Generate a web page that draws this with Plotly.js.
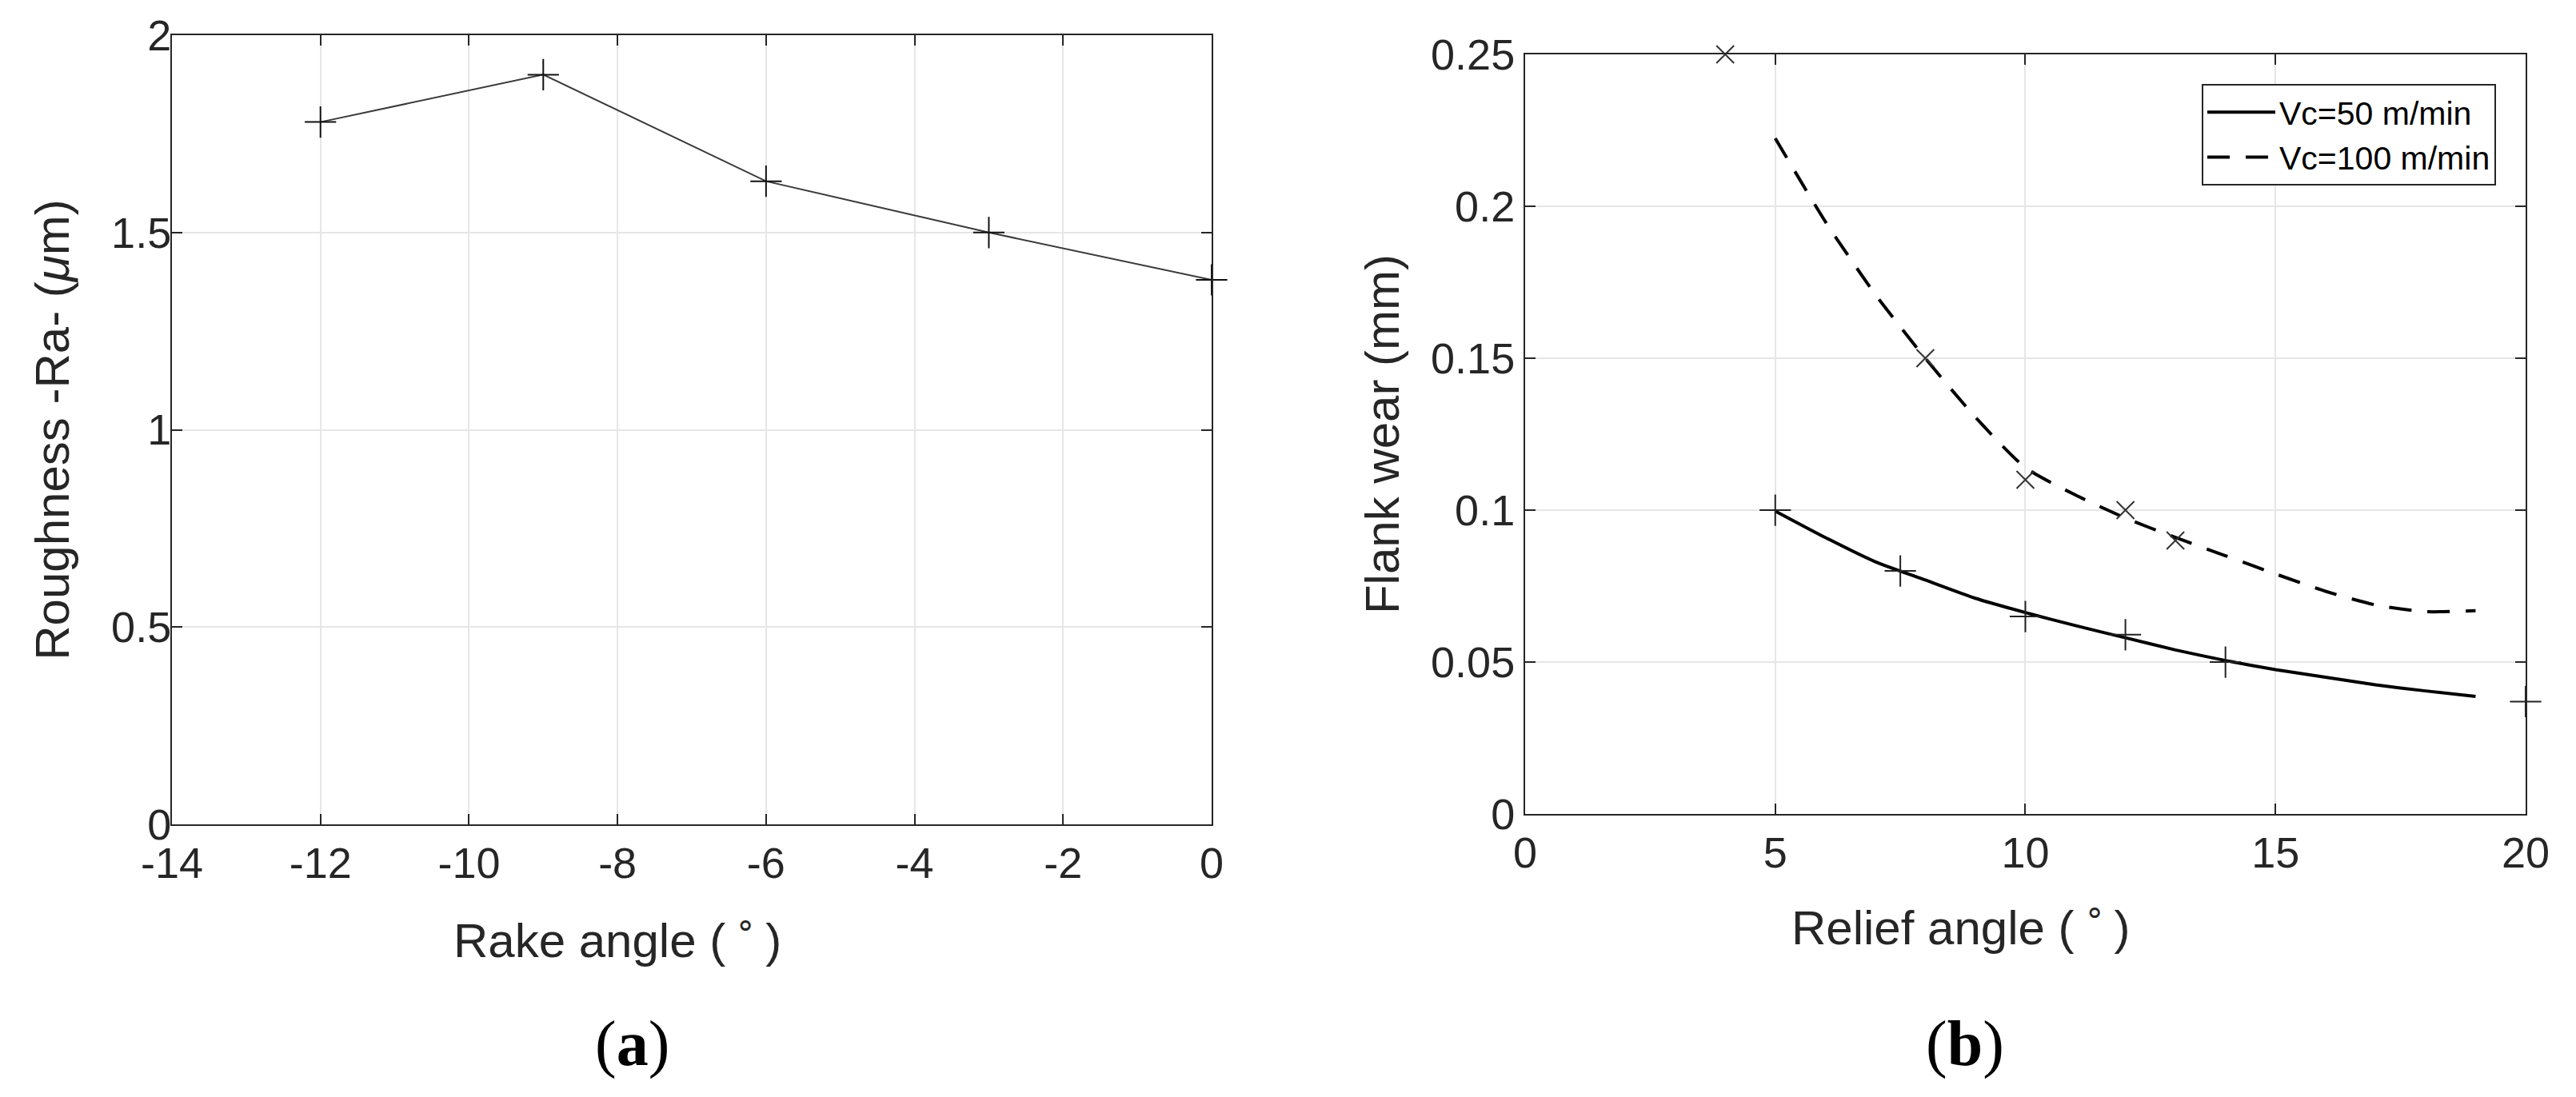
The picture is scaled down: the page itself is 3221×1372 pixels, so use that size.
<!DOCTYPE html>
<html><head><meta charset="utf-8">
<script src="https://cdn.plot.ly/plotly-3.0.1.min.js"></script>
<style>html,body{margin:0;padding:0;background:#fff;} #chart{width:3221px;height:1372px;}</style>
</head><body><div id="chart"></div>
<script>
// ---- Panel (a): roughness vs rake angle ----
const rakeAngle = [-12, -9, -6, -3, 0];
const roughnessRa = [1.78, 1.90, 1.63, 1.50, 1.38];

// ---- Panel (b): measured flank wear ----
const reliefAngle50 = [5, 7.5, 10, 12, 14, 20];
const flankWear50 = [0.100, 0.080, 0.065, 0.059, 0.050, 0.037];
const reliefAngle100 = [4, 8, 10, 12, 13];
const flankWear100 = [0.250, 0.150, 0.110, 0.100, 0.090];

// ---- Panel (b): fitted curves ----
const fitAngle = [5, 6, 7, 8, 9, 10, 11, 12, 13, 14, 15, 16, 17, 18, 19];
const fitWear50 = [0.0997, 0.091, 0.083, 0.077, 0.071, 0.0663, 0.062, 0.058, 0.054, 0.0505, 0.0475, 0.045, 0.0425, 0.0405, 0.0387];
const fitWear100 = [0.2224, 0.195, 0.171, 0.150, 0.1306, 0.114, 0.105, 0.0974, 0.091, 0.085, 0.079, 0.0733, 0.0688, 0.0666, 0.0669];

const legendLabels = ['Vc=50 m/min', 'Vc=100 m/min'];
const xTicksA = [-14, -12, -10, -8, -6, -4, -2, 0];
const yTicksA = [0, 0.5, 1, 1.5, 2];
const xTicksB = [0, 5, 10, 15, 20];
const yTicksB = [0, 0.05, 0.1, 0.15, 0.2, 0.25];
const xTitles = ['Rake angle (\u2009<sup>\u2218</sup>\u2009)', 'Relief angle (\u2009<sup>\u2218</sup>\u2009)'];
const yTitles = ['Roughness -Ra- (<i>\u03bc</i>m)', 'Flank wear (mm)'];
const captions = ['(<b>a</b>)', '(<b>b</b>)'];

const FONT = 'Liberation Sans, Arial, Helvetica, sans-serif';
const SERIF = 'Liberation Serif, Times New Roman, serif';
const INK = '#262626';

function axis(extra) {
  return Object.assign({
    showline: true, linecolor: INK, linewidth: 2, mirror: 'ticks',
    ticks: 'inside', ticklen: 13, tickwidth: 2, tickcolor: INK,
    showgrid: true, gridcolor: '#e6e6e6', gridwidth: 2, zeroline: false,
    tickfont: {family: FONT, size: 54, color: INK},
    automargin: false, fixedrange: true, tickmode: 'array'
  }, extra);
}

const traces = [
  {x: rakeAngle, y: roughnessRa, xaxis: 'x', yaxis: 'y', mode: 'lines+markers', showlegend: false,
   line: {color: '#3a3a3a', width: 2},
   marker: {symbol: 'cross-thin-open', size: 28, color: '#111', line: {color: '#111', width: 2}}, cliponaxis: false},
  {x: fitAngle, y: fitWear50, xaxis: 'x2', yaxis: 'y2', mode: 'lines', name: legendLabels[0],
   line: {color: '#000', width: 4, shape: 'spline', smoothing: 0.6}},
  {x: fitAngle, y: fitWear100, xaxis: 'x2', yaxis: 'y2', mode: 'lines', name: legendLabels[1],
   line: {color: '#000', width: 4, dash: '28px,20px', shape: 'spline', smoothing: 0.6}},
  {x: reliefAngle50, y: flankWear50, xaxis: 'x2', yaxis: 'y2', mode: 'markers', showlegend: false,
   marker: {symbol: 'cross-thin-open', size: 28, color: '#222', line: {color: '#222', width: 2}}, cliponaxis: false},
  {x: reliefAngle100, y: flankWear100, xaxis: 'x2', yaxis: 'y2', mode: 'markers', showlegend: false,
   marker: {symbol: 'x-thin-open', size: 22, color: '#333', line: {color: '#333', width: 2}}, cliponaxis: false}
];

const titleFont = {family: FONT, size: 60, color: INK};

const layout = {
  width: 3221, height: 1372,
  margin: {l: 0, r: 0, t: 0, b: 0},
  paper_bgcolor: '#fff', plot_bgcolor: '#fff',
  font: {family: FONT, color: INK},
  xaxis: axis({domain: [0.06675, 0.47035], range: [-14, 0], tickvals: xTicksA,
    ticktext: xTicksA.map(String), anchor: 'y'}),
  yaxis: axis({domain: [0.2485, 0.9679], range: [0, 2], tickvals: yTicksA,
    ticktext: yTicksA.map(String), anchor: 'x', ticklabelstandoff: -12,
    title: {text: yTitles[0], font: titleFont, standoff: 33}}),
  xaxis2: axis({domain: [0.59205, 0.98044], range: [0, 20], tickvals: xTicksB,
    ticktext: xTicksB.map(String), anchor: 'y2'}),
  yaxis2: axis({domain: [0.2580, 0.9504], range: [0, 0.25], tickvals: yTicksB,
    ticktext: yTicksB.map(String), anchor: 'x2',
    title: {text: yTitles[1], font: titleFont, standoff: 20}}),
  legend: {x: 0.96895, xanchor: 'right', y: 0.92347, yanchor: 'top',
    bgcolor: '#fff', bordercolor: INK, borderwidth: 2,
    font: {family: FONT, size: 41, color: '#000'}, itemwidth: 85},
  annotations: [
    {text: xTitles[0], x: 565 / 3221, y: (1372 - 1172) / 1372, xref: 'paper', yref: 'paper', showarrow: false,
     xanchor: 'left', yanchor: 'middle', font: titleFont},
    {text: xTitles[1], x: 2238 / 3221, y: (1372 - 1156) / 1372, xref: 'paper', yref: 'paper', showarrow: false,
     xanchor: 'left', yanchor: 'middle', font: titleFont},
    {text: captions[0], x: 790 / 3221, y: (1372 - 1305) / 1372, xref: 'paper', yref: 'paper', showarrow: false,
     xanchor: 'center', yanchor: 'middle', font: {family: SERIF, size: 80, color: '#000'}},
    {text: captions[1], x: 2457 / 3221, y: (1372 - 1305) / 1372, xref: 'paper', yref: 'paper', showarrow: false,
     xanchor: 'center', yanchor: 'middle', font: {family: SERIF, size: 80, color: '#000'}}
  ]
};

Plotly.newPlot('chart', traces, layout, {displayModeBar: false, staticPlot: true});
</script>
</body></html>
